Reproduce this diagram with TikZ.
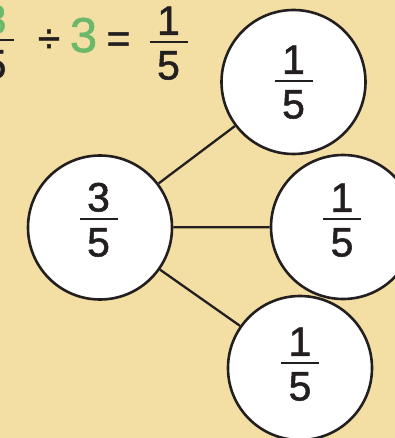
\documentclass[tikz,border=0pt]{standalone}
\usepackage{fontspec}
\setmainfont[FakeBold=1.3]{Liberation Sans}
\definecolor{bg}{HTML}{F3DFA3}
\definecolor{ink}{HTML}{231F20}
\definecolor{grn}{HTML}{6BB86A}
\begin{document}
\begin{tikzpicture}[x=1pt,y=-1pt,
  disc/.style={circle,draw=ink,line width=2.6pt,fill=white,minimum size=144pt,inner sep=0pt},
  link/.style={draw=ink,line width=2.3pt},
  digit/.style={inner sep=0pt,text=ink,font=\fontsize{41}{41}\selectfont},
  bigdigit/.style={inner sep=0pt,text=grn,font=\fontsize{49}{49}\selectfont},
  bar/.style={draw=ink,line width=2.8pt}]
\fill[bg] (0,0) rectangle (395,438);
\useasboundingbox (0,0) rectangle (395,438);
% circles
\node[disc] (L) at (100,227.5) {};
\node[disc] (T) at (293.5,82) {};
\node[disc] (M) at (343,227) {};
\node[disc] (B) at (300,368) {};
\draw[link] (L) -- (T);
\draw[link] (L) -- (M);
\draw[link] (L) -- (B);
% fractions in circles
\foreach \n/\x/\y/\a in {fL/98.5/219/3, fT/293.5/81/1, fM/342/219/1, fB/300/363/1}{
  \coordinate (\n) at (\x,\y);
  \draw[bar] ([xshift=-19pt]\n) -- ([xshift=19pt]\n);
  \node[digit,anchor=south] (\n n) at ([yshift=7pt]\n) {\a};
  \node[digit,anchor=north] (\n d) at ([yshift=-9pt]\n) {5};
}
% top equation
\coordinate (q1) at (-5,40);
\draw[bar] ([xshift=-19pt]q1) -- ([xshift=19pt]q1);
\node[bigdigit,anchor=south,font=\fontsize{41}{41}\selectfont] (q1n) at ([yshift=6pt]q1) {3};
\node[digit,anchor=north] (q1d) at ([yshift=-10pt]q1) {5};
\node[digit,anchor=base] (div) at (49,52.5) {÷};
\node[bigdigit,anchor=base] (three) at (83.5,52) {3};
\node[digit,anchor=base] (eq) at (118.5,52.5) {=};
\coordinate (q2) at (168.5,42);
\draw[bar] ([xshift=-19pt]q2) -- ([xshift=19pt]q2);
\node[digit,anchor=south] (q2n) at ([yshift=7pt]q2) {1};
\node[digit,anchor=north] (q2d) at ([yshift=-9pt]q2) {5};
\end{tikzpicture}
\end{document}
